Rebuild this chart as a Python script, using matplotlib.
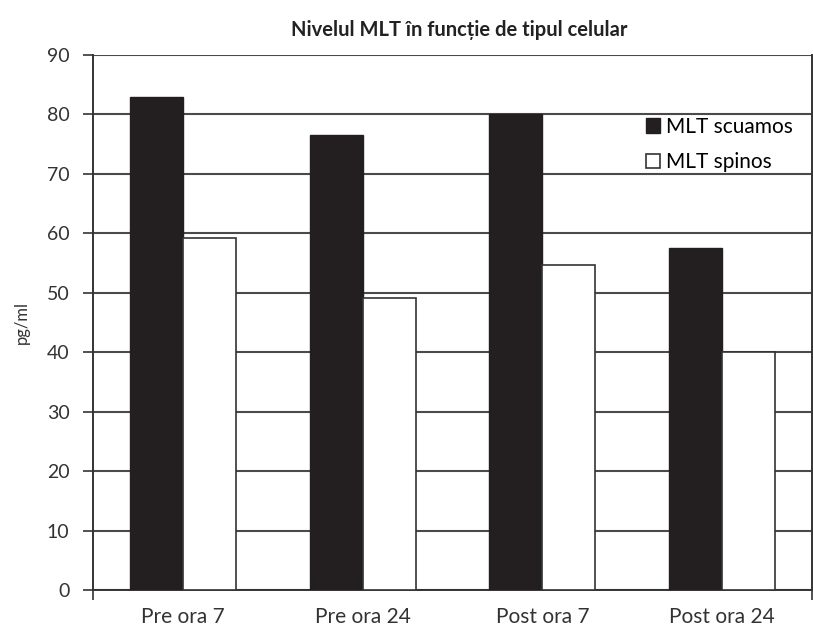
import matplotlib.pyplot as plt
import numpy as np

plt.rcParams['font.family'] = ['Lato', 'DejaVu Sans']

# Nivelul MLT pe categorii
categorii = ['Pre ora 7', 'Pre ora 24', 'Post ora 7', 'Post ora 24']
mlt_scuamos = [83.0, 76.6, 80.0, 57.5]
mlt_spinos = [59.3, 49.2, 54.6, 40.0]
yticks = [0, 10, 20, 30, 40, 50, 60, 70, 80, 90]

fig = plt.figure(figsize=(8.13, 6.28), dpi=100)
ax = fig.add_axes([0.1144, 0.0605, 0.8844, 0.8519])

x = np.arange(len(categorii))
latime = 0.295
ax.bar(x - latime / 2, mlt_scuamos, latime, color='#231f20', edgecolor='#231f20',
       linewidth=1, label='MLT scuamos', zorder=3)
ax.bar(x + latime / 2, mlt_spinos, latime, color='white', edgecolor='#333333',
       linewidth=1.2, label='MLT spinos', zorder=3)

ax.set_xlim(-0.5, 3.5)
ax.set_ylim(0, 90)
ax.set_yticks(yticks)
ax.set_xticks(x)
ax.set_xticklabels(categorii, fontsize=15, color='#333333')
ax.set_xticks([-0.5, 3.5], minor=True)
ax.tick_params(axis='x', which='major', length=0, pad=12)
ax.tick_params(axis='x', which='minor', length=7, width=1.2, color='#333333')
ax.tick_params(axis='y', length=7, width=1.2, color='#333333', labelsize=14,
               labelcolor='#333333', pad=10)

ax.yaxis.grid(True, color='#4a4a4a', linewidth=1.5, zorder=0)
ax.set_axisbelow(True)
for s in ['left', 'bottom']:
    ax.spines[s].set_color('#333333')
    ax.spines[s].set_linewidth(1.4)
ax.spines['top'].set_visible(False)
ax.spines['right'].set_color('#333333')
ax.spines['right'].set_linewidth(1.4)

ax.set_ylabel('pg/ml', fontsize=12, color='#333333', labelpad=12)
ax.set_title('Nivelul MLT în funcție de tipul celular', fontsize=14.5,
             fontweight='bold', color='#222222', pad=14, x=0.51)

leg = ax.legend(loc='upper right', bbox_to_anchor=(1.0, 0.92), frameon=False,
                fontsize=15, handlelength=0.7, handleheight=0.7,
                handletextpad=0.3, labelspacing=0.75)

fig.savefig('out.png', dpi=100)
